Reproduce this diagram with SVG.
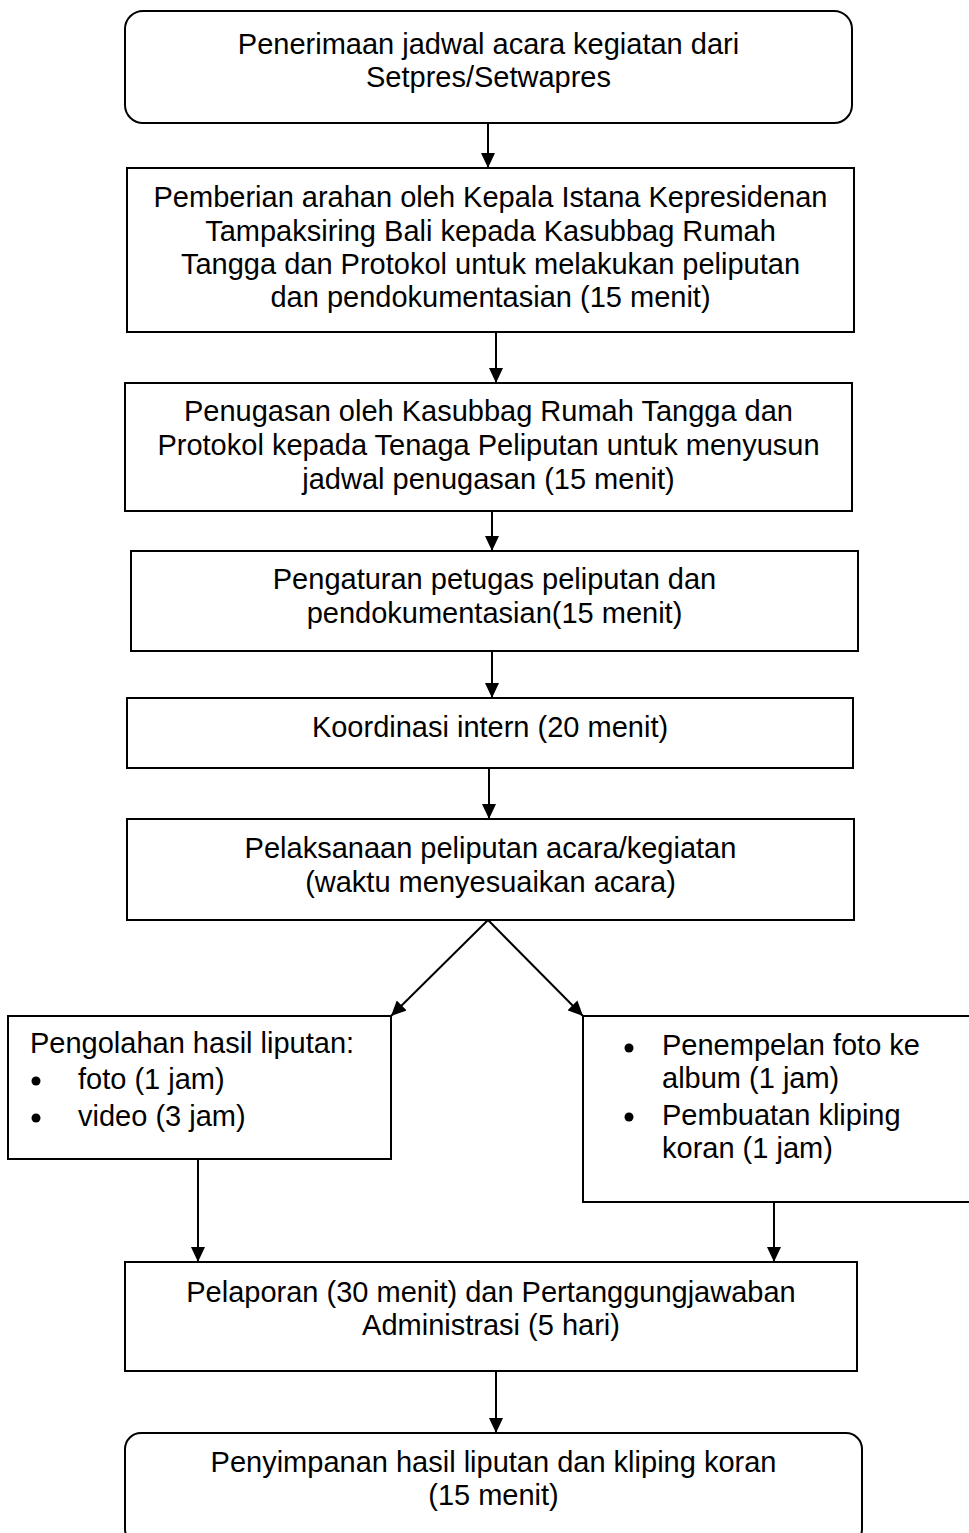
<svg xmlns="http://www.w3.org/2000/svg" width="969" height="1533" viewBox="0 0 969 1533">
<style>
.box{fill:#fff;stroke:#000;stroke-width:2}
.t{font-family:"Liberation Sans",Arial,sans-serif;font-size:29px;fill:#000}
.c{text-anchor:middle}
.conn{stroke:#000;stroke-width:2;fill:none;marker-end:url(#ah)}
</style>
<defs>
<marker id="ah" markerUnits="userSpaceOnUse" markerWidth="16" markerHeight="14" refX="15" refY="7" orient="auto">
<path d="M0,0 L15,7 L0,14 z" fill="#000"/>
</marker>
</defs>
<rect width="969" height="1533" fill="#fff"/>
<g id="connectors">
<line class="conn" x1="488" y1="123" x2="488" y2="168"/>
<line class="conn" x1="496" y1="332" x2="496" y2="383"/>
<line class="conn" x1="492" y1="511" x2="492" y2="551"/>
<line class="conn" x1="492" y1="651" x2="492" y2="698"/>
<line class="conn" x1="489" y1="768" x2="489" y2="819"/>
<line class="conn" x1="488" y1="920" x2="391" y2="1016"/>
<line class="conn" x1="488" y1="920" x2="583" y2="1016"/>
<line class="conn" x1="198" y1="1159" x2="198" y2="1262"/>
<line class="conn" x1="774" y1="1202" x2="774" y2="1262"/>
<line class="conn" x1="496" y1="1371" x2="496" y2="1433"/>
</g>
<g id="n1">
<rect class="box" x="125" y="11" width="727" height="112" rx="18"/>
<text class="t c" x="488.5" y="54">Penerimaan jadwal acara kegiatan dari</text>
<text class="t c" x="488.5" y="87">Setpres/Setwapres</text>
</g>
<g id="n2">
<rect class="box" x="127" y="168" width="727" height="164"/>
<text class="t c" x="490.5" y="207">Pemberian arahan oleh Kepala Istana Kepresidenan</text>
<text class="t c" x="490.5" y="241">Tampaksiring Bali kepada Kasubbag Rumah</text>
<text class="t c" x="490.5" y="274">Tangga dan Protokol untuk melakukan peliputan</text>
<text class="t c" x="490.5" y="307">dan pendokumentasian (15 menit)</text>
</g>
<g id="n3">
<rect class="box" x="125" y="383" width="727" height="128"/>
<text class="t c" x="488.5" y="421">Penugasan oleh Kasubbag Rumah Tangga dan</text>
<text class="t c" x="488.5" y="455">Protokol kepada Tenaga Peliputan untuk menyusun</text>
<text class="t c" x="488.5" y="489">jadwal penugasan (15 menit)</text>
</g>
<g id="n4">
<rect class="box" x="131" y="551" width="727" height="100"/>
<text class="t c" x="494.5" y="589">Pengaturan petugas peliputan dan</text>
<text class="t c" x="494.5" y="623">pendokumentasian(15 menit)</text>
</g>
<g id="n5">
<rect class="box" x="127" y="698" width="726" height="70"/>
<text class="t c" x="490" y="737">Koordinasi intern (20 menit)</text>
</g>
<g id="n6">
<rect class="box" x="127" y="819" width="727" height="101"/>
<text class="t c" x="490.5" y="858">Pelaksanaan peliputan acara/kegiatan</text>
<text class="t c" x="490.5" y="892">(waktu menyesuaikan acara)</text>
</g>
<g id="n7">
<rect class="box" x="8" y="1016" width="383" height="143"/>
<text class="t" x="30" y="1053">Pengolahan hasil liputan:</text>
<circle cx="36" cy="1081" r="4.5"/>
<text class="t" x="78" y="1089">foto (1 jam)</text>
<circle cx="36" cy="1118" r="4.5"/>
<text class="t" x="78" y="1126">video (3 jam)</text>
</g>
<g id="n8">
<rect class="box" x="583" y="1016" width="400" height="186"/>
<circle cx="629" cy="1048" r="4.5"/>
<text class="t" x="662" y="1055">Penempelan foto ke</text>
<text class="t" x="662" y="1088">album (1 jam)</text>
<circle cx="629" cy="1117" r="4.5"/>
<text class="t" x="662" y="1125">Pembuatan kliping</text>
<text class="t" x="662" y="1158">koran (1 jam)</text>
</g>
<g id="n9">
<rect class="box" x="125" y="1262" width="732" height="109"/>
<text class="t c" x="491" y="1302">Pelaporan (30 menit) dan Pertanggungjawaban</text>
<text class="t c" x="491" y="1335">Administrasi (5 hari)</text>
</g>
<g id="n10">
<rect class="box" x="125" y="1433" width="737" height="112" rx="16"/>
<text class="t c" x="493.5" y="1472">Penyimpanan hasil liputan dan kliping koran</text>
<text class="t c" x="493.5" y="1505">(15 menit)</text>
</g>
</svg>
